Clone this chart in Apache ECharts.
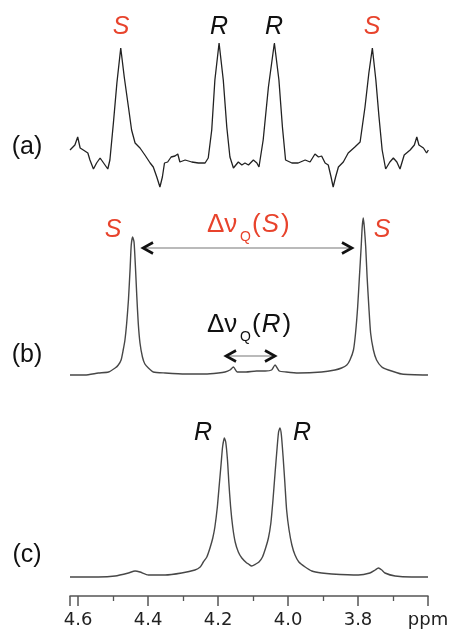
<!DOCTYPE html>
<html>
<head>
<meta charset="utf-8">
<script src="https://cdn.jsdelivr.net/npm/echarts@6/dist/echarts.min.js"></script>
<style>
html,body{margin:0;padding:0;background:#fff;}
#chart{width:462px;height:632px;}
</style>
</head>
<body>
<div id="chart"></div>
<script>
// ---- Data (ppm, intensity) ----
const ppmA = [4.623,4.609,4.601,4.594,4.585,4.572,4.566,4.556,4.547,4.537,4.529,4.523,4.515,4.509,4.499,4.489,4.478,4.468,4.456,4.447,4.437,4.423,4.409,4.394,4.385,4.375,4.366,4.359,4.353,4.344,4.334,4.323,4.315,4.309,4.294,4.275,4.256,4.237,4.228,4.218,4.209,4.197,4.185,4.175,4.166,4.156,4.142,4.132,4.123,4.113,4.109,4.099,4.089,4.083,4.071,4.056,4.039,4.026,4.016,4.007,3.989,3.971,3.951,3.937,3.923,3.913,3.904,3.894,3.885,3.877,3.871,3.864,3.856,3.842,3.828,3.809,3.794,3.780,3.769,3.759,3.749,3.740,3.731,3.721,3.709,3.699,3.689,3.680,3.668,3.651,3.639,3.632,3.626,3.613,3.604,3.599];
const intA = [10,15,23,12,10,7,0,-9,-3,2,-2,-5,-9,0,37,77,112,83,53,30,17,12,5,-3,-7,-17,-27,-17,-3,-2,3,4,6,-2,0,-2,-3,-3,2,30,80,117,80,33,3,-8,-2,-5,-3,-5,-5,0,-3,-7,20,73,117,80,33,0,-3,-3,0,-2,6,3,4,-3,-5,-17,-27,-17,-7,-2,7,13,18,53,87,112,80,43,10,-9,-2,2,-2,-9,5,10,15,23,15,12,7,10];

const ppmB = [4.623,4.580,4.542,4.513,4.494,4.485,4.477,4.471,4.466,4.461,4.456,4.451,4.448,4.444,4.440,4.436,4.432,4.428,4.423,4.416,4.409,4.399,4.385,4.351,4.294,4.237,4.199,4.180,4.166,4.156,4.145,4.120,4.090,4.065,4.047,4.037,4.025,4.005,3.971,3.904,3.866,3.847,3.832,3.823,3.813,3.807,3.801,3.796,3.791,3.788,3.785,3.782,3.778,3.774,3.769,3.764,3.756,3.747,3.732,3.713,3.675,3.600];
const intB = [0,0,2,3,7,10,15,25,35,52,75,108,130,138,133,108,78,52,32,18,11,7,3,2,1,1,2,3,5,8,3,3,4,4,5,10,4,3,2,3,5,7,10,15,25,42,68,98,128,148,157,148,128,98,68,42,25,15,8,5,1,0];

const ppmC = [4.623,4.542,4.494,4.456,4.437,4.423,4.399,4.351,4.304,4.266,4.251,4.242,4.232,4.223,4.215,4.209,4.202,4.196,4.191,4.187,4.182,4.178,4.173,4.169,4.164,4.158,4.151,4.142,4.132,4.118,4.113,4.104,4.092,4.083,4.073,4.064,4.056,4.049,4.043,4.037,4.031,4.027,4.023,4.019,4.014,4.009,4.004,3.997,3.989,3.980,3.969,3.951,3.932,3.904,3.875,3.799,3.766,3.751,3.742,3.732,3.723,3.694,3.647,3.600];
const intC = [1,1,2,5,7,6,3,3,5,8,11,16,21,30,40,51,71,95,115,131,140,136,118,95,71,51,36,26,20,15,14,12,14,16,21,30,40,55,78,105,131,146,150,143,121,95,68,48,33,23,16,11,7,5,4,3,5,8,10,8,5,2,1,1];

const tickValues = [4.6,4.4,4.2,4.0,3.8,3.6];
const tickLabels = ['4.6','4.4','4.2','4.0','3.8','ppm'];
const panelLabels = ['(a)','(b)','(c)'];
const peakLabelsA = ['S','R','R','S'];
const peakLabelsB = ['S','S'];
const peakLabelsC = ['R','R'];

const RED = '#e8432c';
const FONT = '"Liberation Sans", Arial, sans-serif';
const AXFONT = '"DejaVu Sans", sans-serif';

function zip(xs, ys){ return xs.map((x,i)=>[x, ys[i]]); }

const chart = echarts.init(document.getElementById('chart'), null, {renderer:'canvas'});

const xBase = {type:'value', inverse:true, min:3.6, max:4.623, interval:0.2};
const hiddenX = Object.assign({}, xBase, {show:false});
const hiddenY = {type:'value', show:false, splitLine:{show:false}};

function txt(x, y, text, opts){
  return {type:'text', x:x, y:y, silent:true, style:Object.assign({
    text:text, fill:'#111', font:'25px ' + FONT, align:'center', verticalAlign:'middle'
  }, opts||{})};
}
const ital = (color) => ({fill:color, font:'italic 25px ' + FONT});
// Δν_Q(X) label built from three left-aligned pieces
function dnq(x, y, letter, color){
  const base = {fill:color, align:'left', verticalAlign:'middle'};
  return [
    {type:'text', x:x, y:y, silent:true, style:Object.assign({text:'Δν', font:'26px ' + FONT}, base)},
    {type:'text', x:x+33, y:y+12, silent:true, style:Object.assign({text:'Q', font:'14px ' + FONT}, base)},
    {type:'text', x:x+45, y:y, silent:true, style:Object.assign({
      text:'{d|(}{i|' + letter + '}{d|)}',
      rich:{d:{fontSize:26, fontFamily:FONT, fill:color}, i:{fontSize:26, fontFamily:FONT, fontStyle:'italic', fill:color, padding:[0,2,0,1]}}
    }, base)}
  ];
}
function arrow(x1, x2, y){
  return [
    {type:'line', silent:true, shape:{x1:x1, y1:y, x2:x2, y2:y}, style:{stroke:'#777', lineWidth:1.2}},
    {type:'polyline', silent:true, shape:{points:[[x1+11,y-5.5],[x1+1,y],[x1+11,y+5.5]]}, style:{stroke:'#111', lineWidth:2.6, fill:null}},
    {type:'polyline', silent:true, shape:{points:[[x2-11,y-5.5],[x2-1,y],[x2-11,y+5.5]]}, style:{stroke:'#111', lineWidth:2.6, fill:null}}
  ];
}

const graphics = [
  txt(27,147,panelLabels[0]), txt(27,355,panelLabels[1]), txt(27,555,panelLabels[2]),
  txt(121,27,peakLabelsA[0],ital(RED)),
  txt(219,27,peakLabelsA[1],ital('#111')),
  txt(274,27,peakLabelsA[2],ital('#111')),
  txt(372,27,peakLabelsA[3],ital(RED)),
  txt(113,230,peakLabelsB[0],ital(RED)),
  txt(382,230,peakLabelsB[1],ital(RED)),
  txt(203,433,peakLabelsC[0],ital('#111')),
  txt(302,433,peakLabelsC[1],ital('#111'))
].concat(dnq(207,225,'S',RED), dnq(207,325,'R','#111'), arrow(142,353,248), arrow(225,276,356));

const lineSeries = (data, idx, color, w, smooth) => ({
  type:'line', xAxisIndex:idx, yAxisIndex:idx, data:data, showSymbol:false, symbol:'none',
  smooth:smooth, lineStyle:{color:color, width:w}, silent:true, animation:false
});

chart.setOption({
  animation:false,
  backgroundColor:'#fff',
  grid:[
    {left:70, right:34, top:20, height:170},
    {left:70, right:34, top:200, height:180},
    {left:70, right:34, top:400, height:196}
  ],
  xAxis:[
    Object.assign({gridIndex:0}, hiddenX),
    Object.assign({gridIndex:1}, hiddenX),
    Object.assign({gridIndex:2}, xBase, {
      axisLine:{show:true, onZero:false, lineStyle:{color:'#555', width:1.5}},
      axisTick:{show:true, length:10, lineStyle:{color:'#555', width:1.5}},
      minorTick:{show:true, splitNumber:2, length:5, lineStyle:{color:'#555', width:1.3}},
      splitLine:{show:false},
      axisLabel:{show:true, margin:15, fontSize:18, fontFamily:AXFONT, color:'#222',
        showMinLabel:true, showMaxLabel:true,
        formatter:function(v){
          for (let i=0;i<tickValues.length;i++){ if (Math.abs(v - tickValues[i]) < 1e-6) return tickLabels[i]; }
          return '';
        }}
    })
  ],
  yAxis:[
    Object.assign({gridIndex:0, min:-30, max:140}, hiddenY),
    Object.assign({gridIndex:1, min:-5, max:175}, hiddenY),
    Object.assign({gridIndex:2, min:-18, max:178}, hiddenY)
  ],
  series:[
    lineSeries(zip(ppmA,intA), 0, '#222', 1.3, false),
    lineSeries(zip(ppmB,intB), 1, '#474747', 1.4, 0.2),
    lineSeries(zip(ppmC,intC), 2, '#474747', 1.4, 0.2)
  ],
  graphic:graphics
});
</script>
</body>
</html>
